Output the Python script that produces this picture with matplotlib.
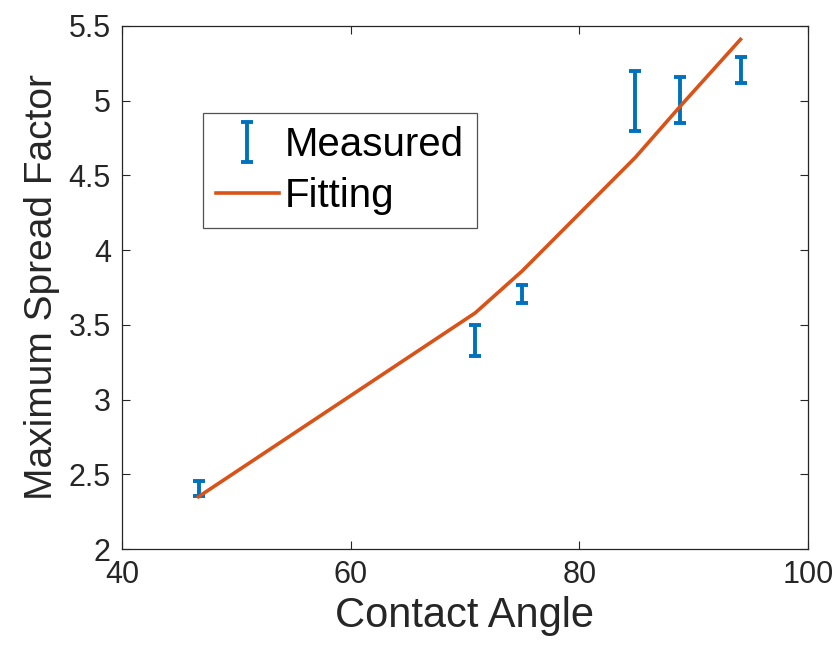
import numpy as np
import matplotlib.pyplot as plt

plt.rcParams['font.family'] = ['Liberation Sans', 'DejaVu Sans']

# measured data (contact angle, spread factor, half error)
angle = [46.7, 70.9, 75.0, 84.9, 88.8, 94.1]
spread = [2.405, 3.395, 3.705, 5.0, 5.005, 5.205]
spread_err = [0.05, 0.105, 0.062, 0.2, 0.155, 0.085]

# fitted curve evaluated at the measured angles
fit_angle = [46.7, 70.9, 75.0, 84.9, 88.8, 94.1]
fit_spread = [2.35, 3.58, 3.86, 4.62, 4.96, 5.41]

blue = '#0072BD'
orange = '#D95319'
dark = '#262626'

fig = plt.figure(figsize=(8.32, 6.67), dpi=100)
ax = fig.add_axes([0.1466, 0.1769, 0.8245, 0.7842])

eb = ax.errorbar(angle, spread, yerr=spread_err, fmt='none', ecolor=blue,
                 elinewidth=2.8, capsize=4.5, capthick=2.8, label='Measured', zorder=2)
fl, = ax.plot(fit_angle, fit_spread, color=orange, lw=2.6, label='Fitting', zorder=3)

ax.set_xlim(40, 100)
ax.set_ylim(2, 5.5)
ax.set_xticks([40, 60, 80, 100])
ax.set_yticks([2, 2.5, 3, 3.5, 4, 4.5, 5, 5.5])
ax.set_yticklabels(['2', '2.5', '3', '3.5', '4', '4.5', '5', '5.5'])

ax.tick_params(direction='in', length=6, width=0.8, colors=dark,
               labelsize=22, top=True, right=True, pad=8)
for s in ax.spines.values():
    s.set_color(dark)
    s.set_linewidth(0.9)

ax.set_xlabel('Contact Angle', fontsize=30, color=dark, labelpad=4)
ax.set_ylabel('Maximum Spread Factor', fontsize=28, color=dark, labelpad=6)

leg = ax.legend([eb, fl], ['Measured', 'Fitting'], loc='upper left',
                bbox_to_anchor=(0.118, 0.834), borderaxespad=0,
                fontsize=29, frameon=True, fancybox=False, edgecolor=dark,
                handlelength=1.55, handletextpad=0.15, borderpad=0.33,
                labelspacing=0.32)
leg.get_frame().set_linewidth(0.9)
for t in leg.get_texts():
    t.set_color('black')

fig.savefig('out.png', dpi=100)
